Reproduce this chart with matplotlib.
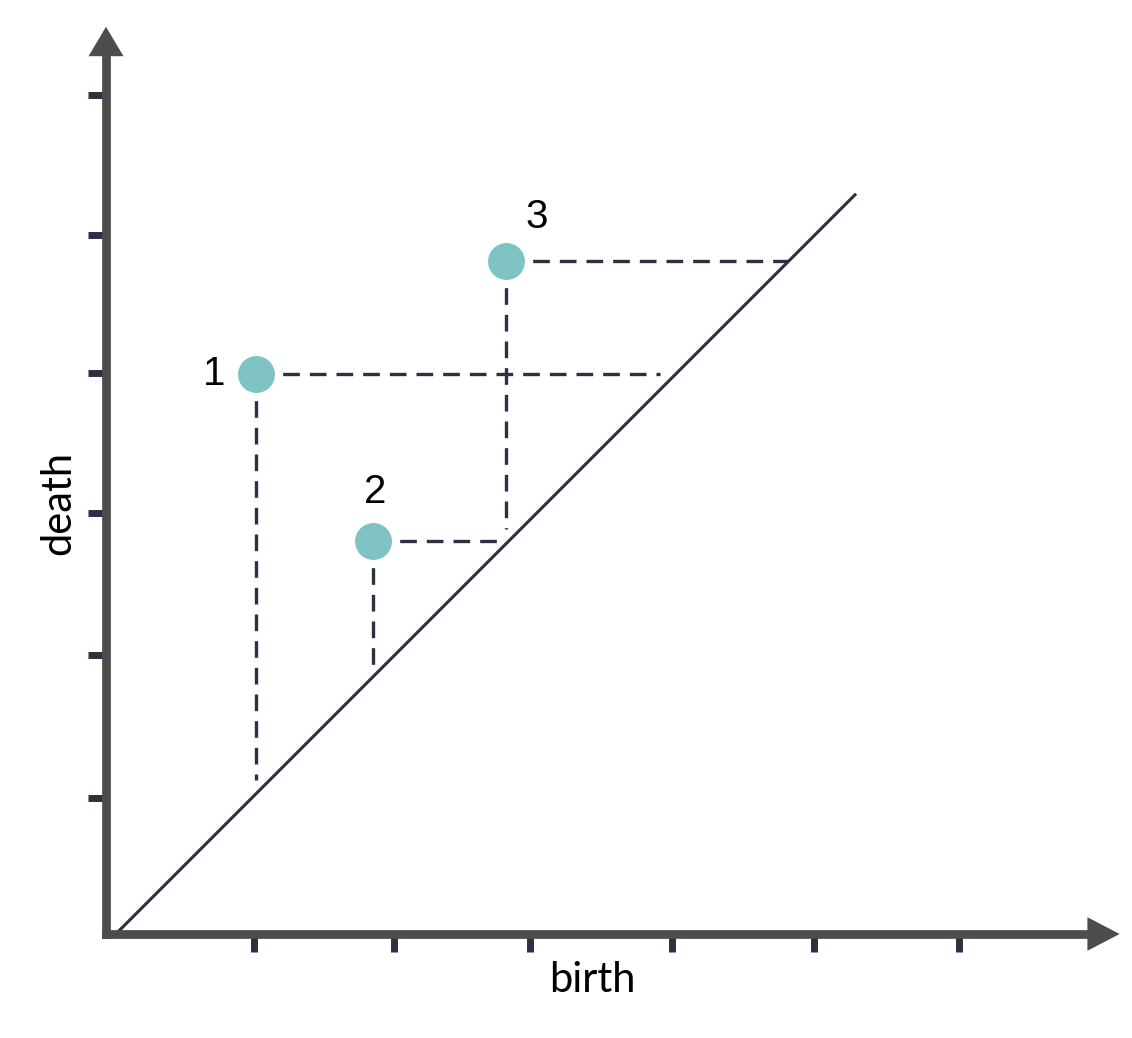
import matplotlib
matplotlib.use("Agg")
import matplotlib.pyplot as plt

# persistence diagram values (birth, death)
labels = ["1", "2", "3"]
birth = [1.07, 1.91, 2.86]
death = [4.00, 2.81, 4.81]
# where the dashed guides stop (near the diagonal)
h_end = [3.96, 2.85, 4.87]
v_end = [1.10, 1.92, 2.89]
diag_x = [0.07, 5.35]
diag_y = [0.0, 5.28]
x_ticks = [1.06, 2.06, 3.03, 4.04, 5.06, 6.09]
y_ticks = [0.97, 1.99, 3.01, 4.01, 4.99, 5.99]

axis_col = "#4d4d4d"
ink = "#2b3142"
teal = "#7fc4c2"

fig = plt.figure(figsize=(11.32, 10.38), dpi=100)
ax = fig.add_axes([0, 0, 1, 1])
ax.set_xlim(-106 / 140, (1132 - 106) / 140)
ax.set_ylim(-(1038 - 934) / 140, 934 / 140)

# axis lines through the origin with arrow heads
for s in ["top", "right"]:
    ax.spines[s].set_visible(False)
ax.spines["left"].set_position(("data", 0))
ax.spines["bottom"].set_position(("data", 0))
ax.spines["left"].set_bounds(0, 6.28)
ax.spines["bottom"].set_bounds(0, 7.02)
for s in ["left", "bottom"]:
    ax.spines[s].set_linewidth(6.3)
    ax.spines[s].set_color(axis_col)
    ax.spines[s].set_capstyle("projecting")
    ax.spines[s].set_zorder(4)
ax.fill([-0.125, 0.125, 0.0], [6.27, 6.27, 6.48], color=axis_col, lw=0)
ax.fill([7.01, 7.01, 7.24], [-0.12, 0.12, 0.0], color=axis_col, lw=0)

ax.set_xticks(x_ticks)
ax.set_yticks(y_ticks)
ax.tick_params(direction="out", length=13.2, width=5, color=ink,
               labelbottom=False, labelleft=False, pad=0)

# diagonal
ax.plot(diag_x, diag_y, color=ink, lw=2.2, zorder=2)

# dashed guides
for b, d, he, ve in zip(birth, death, h_end, v_end):
    ax.plot([b, he], [d, d], color=ink, lw=2.4, dashes=(5.0, 3.0), zorder=2)
    ax.plot([b, b], [d, ve], color=ink, lw=2.4, dashes=(5.0, 3.0), zorder=2)

# points with a white halo
ax.plot(birth, death, "o", ms=32.4, mfc=teal, mec="white", mew=5.8,
        ls="none", zorder=3)

offsets = [(-30, 0), (1.5, 35), (21.6, 31.7)]
for lab, b, d, off in zip(labels, birth, death, offsets):
    ax.annotate(lab, (b, d), xytext=off, textcoords="offset points",
                ha="center", va="center", fontsize=29,
                family=["Liberation Sans", "DejaVu Sans"], color="black")

fig.text(592 / 1132, 1 - 980 / 1038, "birth", ha="center", va="center",
         fontsize=30, family=["Lato", "DejaVu Sans"])
fig.text(58 / 1132, 1 - 503 / 1038, "death", ha="center", va="center",
         rotation=90, fontsize=30, family=["Lato", "DejaVu Sans"])

fig.savefig("out.png", dpi=100, facecolor="white")
